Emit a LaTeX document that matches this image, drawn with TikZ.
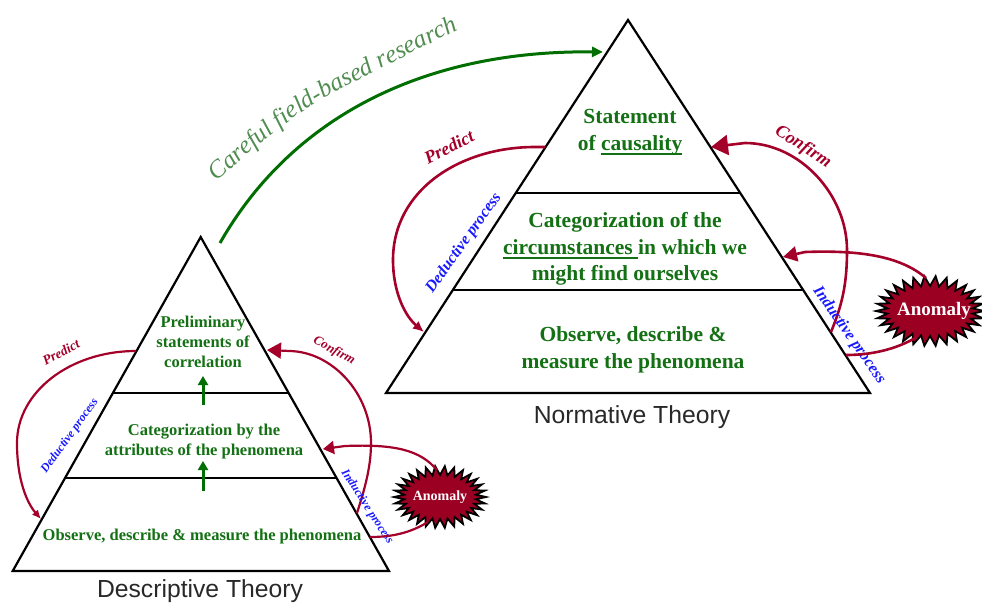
\documentclass[tikz,border=0pt]{standalone}
\usepackage{fontspec}
\setmainfont{Liberation Serif}
\newfontfamily\labelsans{Liberation Sans}
\usetikzlibrary{arrows.meta,decorations.text}
\definecolor{cred}{RGB}{163,0,42}
\definecolor{cgt}{RGB}{20,112,20}
\definecolor{cga}{RGB}{0,110,0}
\definecolor{cfield}{RGB}{80,140,80}
\definecolor{cblue}{RGB}{25,25,255}
\definecolor{canom}{RGB}{155,0,35}
\definecolor{ctitle}{RGB}{40,40,40}
\newcommand\myul[1]{\setbox0\hbox{#1}\rlap{\raisebox{-4.5pt}{\rule{\wd0}{1.8pt}}}\box0}
\begin{document}
\begin{tikzpicture}[x=1pt,y=-1pt,
 pyr/.style={draw=black,line width=2.2pt,line join=miter},
 thinlayer/.style={draw=black,line width=1.5pt},
 thicklayer/.style={draw=black,line width=2.5pt},
 lt/.style={text=cgt,font=\bfseries\fontsize{16.5}{20}\selectfont,align=center,inner sep=0pt},
 rt/.style={text=cgt,font=\bfseries\fontsize{21.5}{26.5}\selectfont,align=center,inner sep=0pt},
 ttl/.style={text=ctitle,font=\labelsans\fontsize{24.7}{28}\selectfont,inner sep=0pt,anchor=base},
 rarc/.style={draw=cred,line width=2.6pt},
 larc/.style={draw=cred,line width=2.2pt},
 rlab/.style={text=cred,font=\bfseries\itshape\fontsize{#1}{#1}\selectfont,inner sep=0pt},
 blab/.style={text=cblue,font=\bfseries\itshape\fontsize{#1}{#1}\selectfont,inner sep=0pt},
 star/.style={fill=canom,draw=black,line width=1.8pt,line join=miter},
 anomtxt/.style={text=white,font=\bfseries\fontsize{#1}{#1}\selectfont,inner sep=0pt},
 garr/.style={draw=cga,line width=3pt,-{Triangle[length=9pt,width=10pt]}},
]
\useasboundingbox (0,0) rectangle (982,603);

% ---------- Left pyramid (Descriptive) ----------
\coordinate (LA) at (200.7,237);
\coordinate (LL) at (12.7,571);
\coordinate (LR) at (389,571);
\draw[pyr] (LA) -- (LR) -- (LL) -- cycle;
\draw[thinlayer] (113,393) -- (288.5,393);
\draw[thicklayer] (65,478) -- (336,478);

\node[lt] (prelim) at (203,342) {Preliminary\\statements of\\correlation};
\node[lt] (catL) at (204,441.5) {Categorization by the\\attributes of the phenomena};
\node[lt] (obsL) at (202,537) {Observe, describe \& measure the phenomena};
\node[ttl] (descT) at (200,597) {Descriptive Theory};

\coordinate (u1s) at (203,405); \coordinate (u1e) at (203,376);
\coordinate (u2s) at (203,491); \coordinate (u2e) at (203,461);
\draw[garr] (u1s) -- (u1e);
\draw[garr] (u2s) -- (u2e);

% left arcs
\coordinate (pLs) at (136,351); \coordinate (pLe) at (41,519);
\draw[larc,-{Latex[length=9pt,width=8pt]}] (pLs) .. controls (70,351) and (17,392) .. (17,443) .. controls (17,480) and (27,503) .. (pLe);
\coordinate (cLs) at (357,513); \coordinate (cLe) at (267,350);
\draw[larc,-{Triangle[length=14pt,width=16pt]}] (cLs) .. controls (366,485) and (371,465) .. (371,443) .. controls (371,393) and (332,352) .. (290,351) -- (cLe);

\node[rlab=13.5,rotate=28] (predL) at (61,352) {Predict};
\node[rlab=13,rotate=-29] (confL) at (334,351) {Confirm};
\node[blab=12,rotate=54] (dedL) at (70,436) {Deductive process};
\node[blab=12,rotate=-57] (indL) at (367,507) {Inductive process};

% left anomaly
\begin{scope}[shift={(440,497)}]
\draw[star] (46,0) \foreach \a in {0,12,...,348}{ -- ({46*cos(\a)},{31*sin(\a)}) -- ({36*cos(\a+6)},{22*sin(\a+6)}) } -- cycle;
\node[anomtxt=14] (anomL) at (0,0) {Anomaly};
\end{scope}
\coordinate (aLs) at (437,470); \coordinate (aLe) at (323,449);
\draw[larc,-{Triangle[length=11pt,width=13pt]}] (aLs) .. controls (420,450) and (395,444) .. (345,446) -- (aLe);
\coordinate (aLb) at (428,522); \coordinate (aLc) at (370,537);
\draw[larc] (aLb) .. controls (410,533) and (392,537) .. (aLc);

% ---------- Right pyramid (Normative) ----------
\coordinate (RA) at (628,20);
\coordinate (RL) at (386,393);
\coordinate (RR) at (870,393);
\draw[pyr] (RA) -- (RR) -- (RL) -- cycle;
\draw[thicklayer] (516,193) -- (740,193);
\draw[thinlayer] (453,290) -- (803,290);

\node[rt] (stmt) at (630,132) {Statement\\of \myul{causality}};
\node[rt] (catR) at (625,249) {Categorization of the\\\myul{circumstances }in which we\\might find ourselves};
\node[rt] (obsR) at (633,350) {Observe, describe \&\\measure the phenomena};
\node[ttl] (normT) at (632,423) {Normative Theory};

% right arcs
\coordinate (pRs) at (545,147); \coordinate (pRe) at (424,332);
\draw[rarc,-{Latex[length=11pt,width=10pt]}] (pRs) -- (535,147) .. controls (460,147) and (393,190) .. (393,260) .. controls (393,292) and (405,316) .. (pRe);
\coordinate (cRs) at (831,332); \coordinate (cRe) at (711,147);
\draw[rarc,-{Triangle[length=17pt,width=20pt]}] (cRs) .. controls (842,305) and (847,285) .. (847,250) .. controls (847,195) and (800,143) .. (745,143) -- (cRe);

\node[rlab=18,rotate=27] (predR) at (449,147) {Predict};
\node[rlab=18,rotate=-33] (confR) at (803,147) {Confirm};
\node[blab=16,rotate=54.5] (dedR) at (464,243) {Deductive process};
\node[blab=16,rotate=-55] (indR) at (849,335) {Inductive process};

% right anomaly
\begin{scope}[shift={(930,311)}]
\draw[star] (54,0) \foreach \a in {0,12,...,348}{ -- ({54*cos(\a)},{35*sin(\a)}) -- ({43*cos(\a+6)},{25*sin(\a+6)}) } -- cycle;
\node[anomtxt=19] (anomR) at (4,0) {Anomaly};
\end{scope}
\coordinate (aRs) at (926,278); \coordinate (aRe) at (783,257);
\draw[rarc,-{Triangle[length=14pt,width=15pt]}] (aRs) .. controls (900,256) and (860,250) .. (805,252) -- (aRe);
\coordinate (aRb) at (917,337); \coordinate (aRc) at (846,355);
\draw[rarc] (aRb) .. controls (895,350) and (870,355) .. (aRc);

% ---------- Careful field-based research ----------
\coordinate (gs) at (220,243); \coordinate (ge) at (603,52);
\draw[draw=cga,line width=3pt,-{Triangle[length=11pt,width=10pt]}] (gs) .. controls (290,120) and (420,50) .. (ge);
\path[decorate,decoration={text along path,text color=cfield,text align=center,
  text={|\itshape\fontsize{25}{25}\selectfont|Careful field-based research}}]
  (214,184) .. controls (300,108) .. (462,28);
\end{tikzpicture}
\end{document}
